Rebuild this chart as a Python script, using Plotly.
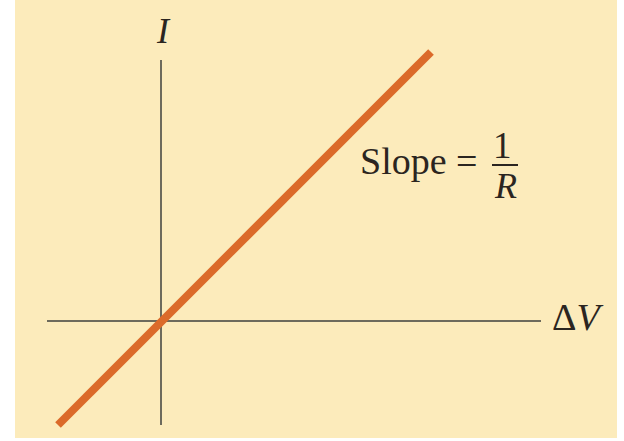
import plotly.graph_objects as go

# Data (1 unit = 100 px in the reference)
delta_v = [-1.03, 2.70]
current = [-1.04, 2.69]

v_axis_x = [0, 0]
v_axis_y = [-1.04, 2.61]
h_axis_x = [-1.14, 3.80]
h_axis_y = [0, 0]

fig = go.Figure()
fig.add_trace(go.Scatter(x=h_axis_x, y=h_axis_y, mode="lines",
                         line=dict(color="#6d6a5c", width=2), hoverinfo="skip"))
fig.add_trace(go.Scatter(x=v_axis_x, y=v_axis_y, mode="lines",
                         line=dict(color="#6d6a5c", width=2), hoverinfo="skip"))
fig.add_trace(go.Scatter(x=delta_v, y=current, mode="lines",
                         line=dict(color="#db6a2a", width=8), hoverinfo="skip"))

font_family = "Liberation Serif, Times New Roman, serif"
txt = "#2b2520"
fig.add_annotation(x=0.02, y=2.90, xref="x", yref="y", text="<i>I</i>",
                   showarrow=False, font=dict(family=font_family, size=36, color=txt))
fig.add_annotation(x=4.165, y=0.04, xref="x", yref="y", text="Δ<i>V</i>",
                   showarrow=False, font=dict(family=font_family, size=38, color=txt))
fig.add_annotation(x=2.58, y=1.60, xref="x", yref="y", text="Slope =",
                   showarrow=False, font=dict(family=font_family, size=38, color=txt))
fig.add_annotation(x=3.415, y=1.76, xref="x", yref="y", text="1",
                   showarrow=False, font=dict(family=font_family, size=37, color=txt))
fig.add_annotation(x=3.44, y=1.35, xref="x", yref="y", text="<i>R</i>",
                   showarrow=False, font=dict(family=font_family, size=36, color=txt))

# background panel and fraction bar
fig.add_shape(type="rect", xref="paper", yref="paper", x0=15/624, x1=617/624,
              y0=1-438/441, y1=1.0, fillcolor="#fcebbb", line=dict(width=0), layer="below")
fig.add_shape(type="line", xref="x", yref="y", x0=3.31, x1=3.57, y0=1.56, y1=1.56,
              line=dict(color=txt, width=2))

fig.update_layout(
    width=624, height=441,
    margin=dict(l=0, r=0, t=0, b=0),
    paper_bgcolor="white", plot_bgcolor="rgba(0,0,0,0)",
    showlegend=False,
    xaxis=dict(range=[-1.61, 4.63], visible=False, fixedrange=True),
    yaxis=dict(range=[-1.20, 3.21], visible=False, fixedrange=True),
)

fig.write_html("out.html", config={"displayModeBar": False},
               post_script="document.body.style.margin='0';")
